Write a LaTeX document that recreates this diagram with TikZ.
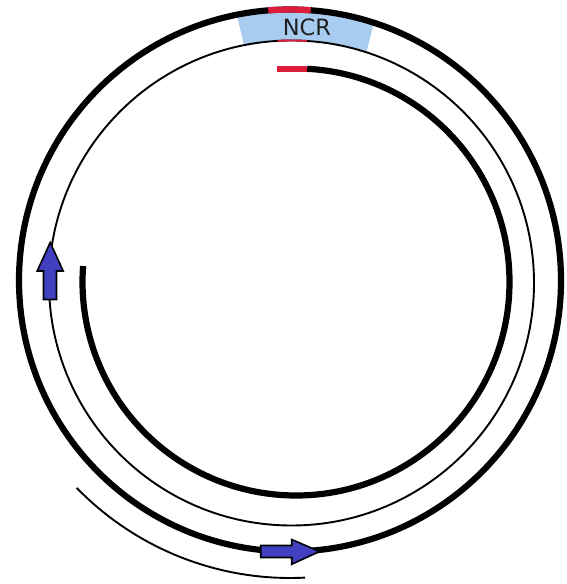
\documentclass[tikz,border=0pt]{standalone}
\usepackage{fontspec}
\newfontfamily\ncrfont{DejaVu Sans}
\usetikzlibrary{calc}
\definecolor{ncrblue}{HTML}{A8CCEF}
\definecolor{ohred}{HTML}{DC1E3C}
\definecolor{arrowblue}{HTML}{4040C0}
\begin{document}
\begin{tikzpicture}[x=1pt,y=1pt,
  thick strand/.style={line width=6.2pt},
  thin strand/.style={line width=1.9pt},
  dir arrow/.style={fill=arrowblue, draw=black, line width=1.6pt, line join=miter},
]
\useasboundingbox (0,0) rectangle (566,584);
\coordinate (Co) at (290,303.5);
\coordinate (Ci) at (291.5,301);
\coordinate (Cn) at (296,302);
% NCR region
\fill[ncrblue] ($(Co)+(101.3:271)$) arc[start angle=101.3,end angle=72,radius=271]
  -- ($(Ci)+(72:242.5)$) arc[start angle=72,end angle=101.3,radius=242.5] -- cycle;
% outer parental strand
\draw[thick strand] (Co) circle[radius=271];
\draw[thick strand, ohred] ($(Co)+(94.6:271)$) arc[start angle=94.6,end angle=85.6,radius=271];
% inner parental strand
\draw[thin strand] (Ci) circle[radius=242.5];
\draw[thin strand, ohred] ($(Ci)+(93.3:242.5)$) arc[start angle=93.3,end angle=86.4,radius=242.5];
% nascent heavy strand
\coordinate (OH) at ($(Cn)+(87:213.5)$);
\draw[thick strand] (OH) arc[start angle=87,end angle=-184.3,radius=213.5];
\draw[thick strand, ohred] (OH) -- ++(-30,0);
% nascent light strand
\draw[thin strand] ($(Co)+(224.2:297.5)$) arc[start angle=224.2,end angle=272.9,radius=297.5];
% direction arrows
\draw[dir arrow] (43.5,284.5) -- (43.5,313) -- (37.2,313) -- (50.2,341.5) -- (63.2,313) -- (56.5,313) -- (56.5,284.5) -- cycle;
\draw[dir arrow] (260.7,26.5) -- (291.7,26.5) -- (291.7,19.7) -- (319.5,32.5) -- (291.7,44.5) -- (291.7,38.5) -- (260.7,38.5) -- cycle;
% label
\node[font=\ncrfont\fontsize{22.5}{26}\selectfont, text=black!88, anchor=base, inner sep=0pt] (ncr) at (307,548) {NCR};
\end{tikzpicture}
\end{document}
